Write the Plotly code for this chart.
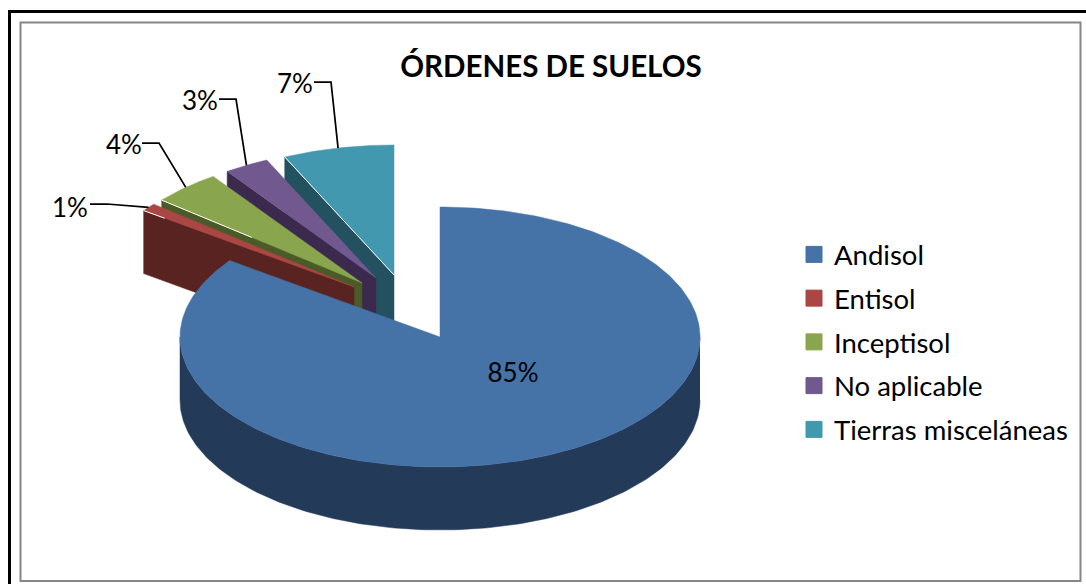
import numpy as np
import plotly.graph_objects as go

categories = ["Andisol", "Entisol", "Inceptisol", "No aplicable", "Tierras misceláneas"]
values = [85, 1, 4.3, 2.8, 6.9]
top_colors = ["#4572A7", "#AA4643", "#89A54E", "#71588F", "#4198AF"]
wall_colors = ["#243A59", "#582321", "#4A5A28", "#3B2A4D", "#235160"]
title_text = "ÓRDENES DE SUELOS"

# pie projection (pixel-based axes)
CX, CY, RX, RY, DEPTH = 440.0, 337.0, 260.0, 130.0, 63.0
explode_dx = [0, -86, -78, -64, -46]
explode_dy = [0, -50, -54, -59, -62]
highlight = [0, 0.1, 0.45, 0.0, 1.0]
label_x = [513, 70, 124, 200, 295]
label_y = [375, 210, 147, 103, 86]
elbow_x = [None, 107, 159, 236, 331]
elbow_y = [None, 204, 143, 99, 82]
stub_x = [None, 90, 142, 219, 314]
FONT = "Lato"

fig = go.Figure()
total = sum(values)
starts = np.cumsum([0] + values[:-1]) / total * 360.0
ends = np.cumsum(values) / total * 360.0


def point(cx, cy, deg):
    t = np.radians(deg)
    return cx + RX * np.sin(t), cy - RY * np.cos(t)


def poly(xs, ys, color, line=None):
    fig.add_trace(go.Scatter(
        x=list(xs), y=list(ys), mode="lines", fill="toself", fillcolor=color,
        line=dict(color=color, width=0.5), hoverinfo="skip", showlegend=False))


def seg(xs, ys, color, width):
    fig.add_trace(go.Scatter(
        x=list(xs), y=list(ys), mode="lines", line=dict(color=color, width=width),
        hoverinfo="skip", showlegend=False))


# exploded slices, back to front
for i in range(len(values) - 1, 0, -1):
    cx, cy = CX + explode_dx[i], CY + explode_dy[i]
    sx, sy = point(cx, cy, starts[i])
    poly([cx, sx, sx, cx, cx], [cy, sy, sy + DEPTH, cy + DEPTH, cy], wall_colors[i])
    angs = np.linspace(starts[i], ends[i], 40)
    ax, ay = point(cx, cy, angs)
    poly(np.r_[cx, ax, cx], np.r_[cy, ay, cy], top_colors[i])
    if highlight[i] > 0:
        f = highlight[i]
        seg([sx, sx + (cx - sx) * f], [sy, sy + (cy - sy) * f], "#FFFFFF", 1)

# main slice
angs = np.linspace(90, 270, 181)
ax, ay = point(CX, CY, angs)
poly(np.r_[ax, ax[::-1]], np.r_[ay, ay[::-1] + DEPTH], wall_colors[0])
angs = np.linspace(starts[0], ends[0], 300)
ax, ay = point(CX, CY, angs)
poly(np.r_[CX, ax, CX], np.r_[CY, ay, CY], top_colors[0])

# leader lines
for i in range(1, len(values)):
    cx, cy = CX + explode_dx[i], CY + explode_dy[i]
    ex, ey = point(cx, cy, (starts[i] + ends[i]) / 2)
    seg([stub_x[i], elbow_x[i], ex], [elbow_y[i], elbow_y[i], ey], "#000000", 1.75)

# data labels
fig.add_trace(go.Scatter(
    x=label_x, y=label_y, mode="text", text=[f"{v:.0f}%" for v in values],
    textposition="middle center",
    textfont=dict(family=FONT, size=26, color="#000000"),
    hoverinfo="skip", showlegend=False))

# legend entries
for i, name in enumerate(categories):
    fig.add_trace(go.Scatter(
        x=[None], y=[None], mode="markers", name=name, legendgroup=name,
        marker=dict(symbol="square", size=16, color=top_colors[i],
                    line=dict(color=top_colors[i], width=1))))

fig.update_layout(
    width=1086, height=584,
    margin=dict(l=0, r=0, t=0, b=0),
    paper_bgcolor="#FFFFFF", plot_bgcolor="#FFFFFF",
    xaxis=dict(range=[0, 1086], visible=False, fixedrange=True),
    yaxis=dict(range=[584, 0], visible=False, fixedrange=True),
    title=dict(text=f"<b>{title_text}</b>", x=551 / 1086, y=1 - 67 / 584,
               xanchor="center", yanchor="middle",
               font=dict(family=FONT, size=29.5, color="#000000")),
    legend=dict(x=794 / 1086, y=1 - 230 / 584, xanchor="left", yanchor="top",
                font=dict(family=FONT, size=27.5, color="#000000"),
                traceorder="grouped", tracegroupgap=5, itemwidth=30,
                bgcolor="rgba(0,0,0,0)"),
    shapes=[
        dict(type="rect", xref="x", yref="y", x0=9.5, y0=11.5, x1=1100, y1=600,
             line=dict(color="#000000", width=3), layer="below"),
        dict(type="rect", xref="x", yref="y", x0=20.5, y0=22.5, x1=1080.5, y1=581,
             line=dict(color="#868686", width=2), layer="below"),
    ],
)
fig.write_html("out.html", config={"displayModeBar": False},
               post_script="document.body.style.margin='0';document.body.style.overflow='hidden';")
